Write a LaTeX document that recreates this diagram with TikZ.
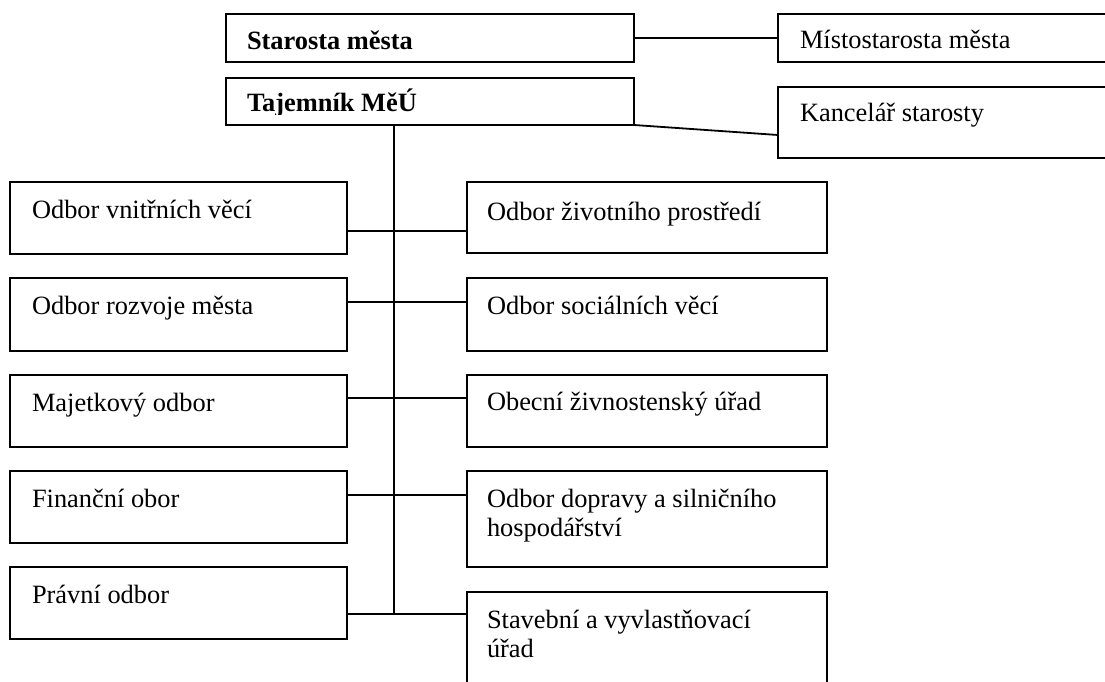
\documentclass[tikz,border=0pt]{standalone}
\usepackage{fontspec}
\setmainfont{Liberation Serif}
\begin{document}
\begin{tikzpicture}[x=1pt,y=1pt,
  box/.style={draw, line width=1.8pt, inner sep=0pt, outer sep=0pt, anchor=north west},
  txt/.style={inner sep=0pt, outer sep=0pt, anchor=base west, align=left, font=\fontsize{26.4}{29}\selectfont},
  conn/.style={line width=1.8pt}]
\useasboundingbox (0,0) rectangle (1105,-682);
\clip (0,0) rectangle (1105,-682);
% top boxes
\node[box, minimum width=408, minimum height=48] (sta) at (226,-14) {};
\node[txt] (stat) at ([shift={(21,-36)}]sta.north west) {\bfseries Starosta města};
\node[box, minimum width=408, minimum height=47] (taj) at (226,-78) {};
\begin{scope}
  \clip (226,-78) rectangle (634,-115);
  \node[txt] (tajt) at ([shift={(21,-34)}]taj.north west) {\bfseries Tajemník MěÚ};
\end{scope}
\node[box, minimum width=400, minimum height=48] (mis) at (778,-14) {};
\node[txt] (mist) at ([shift={(22,-35)}]mis.north west) {Místostarosta města};
\node[box, minimum width=400, minimum height=71] (kan) at (778,-87) {};
\node[txt] (kant) at ([shift={(22,-35)}]kan.north west) {Kancelář starosty};
% left boxes
\node[box, minimum width=337, minimum height=72] (l1) at (10,-182) {};
\node[box, minimum width=337, minimum height=73] (l2) at (10,-278) {};
\node[box, minimum width=337, minimum height=72] (l3) at (10,-375) {};
\node[box, minimum width=337, minimum height=72] (l4) at (10,-471) {};
\node[box, minimum width=337, minimum height=72] (l5) at (10,-567) {};
\node[txt] (l1t) at ([shift={(22,-36)}]l1.north west) {Odbor vnitřních věcí};
\node[txt] (l2t) at ([shift={(22,-36)}]l2.north west) {Odbor rozvoje města};
\node[txt] (l3t) at ([shift={(22,-36)}]l3.north west) {Majetkový odbor};
\node[txt] (l4t) at ([shift={(22,-36)}]l4.north west) {Finanční obor};
\node[txt] (l5t) at ([shift={(22,-36)}]l5.north west) {Právní odbor};
% right boxes
\node[box, minimum width=360, minimum height=71] (r1) at (467,-182) {};
\node[box, minimum width=360, minimum height=73] (r2) at (467,-278) {};
\node[box, minimum width=360, minimum height=72] (r3) at (467,-375) {};
\node[box, minimum width=360, minimum height=96] (r4) at (467,-471) {};
\node[box, minimum width=360, minimum height=120] (r5) at (467,-592) {};
\node[txt] (r1t) at ([shift={(20,-38)}]r1.north west) {Odbor životního prostředí};
\node[txt] (r2t) at ([shift={(20,-36)}]r2.north west) {Odbor sociálních věcí};
\node[txt] (r3t) at ([shift={(20,-35)}]r3.north west) {Obecní živnostenský úřad};
\node[txt] (r4t) at ([shift={(20,-65)}]r4.north west) {Odbor dopravy a silničního\\hospodářství};
\node[txt] (r5t) at ([shift={(20,-65)}]r5.north west) {Stavební a vyvlastňovací\\úřad};
% connectors
\draw[conn] (sta.east) -- (mis.west);
\draw[conn] (taj.south east) -- ([yshift=23]kan.south west);
\coordinate (ttop) at ([xshift=-36]taj.south);
\coordinate (j1) at (394,-231);
\coordinate (j2) at (394,-302);
\coordinate (j3) at (394,-398);
\coordinate (j4) at (394,-495);
\coordinate (j5) at (394,-614);
\draw[conn] (ttop) -- (j5);
\draw[conn] (l1.east |- j1) -- (r1.west |- j1);
\draw[conn] (l2.east |- j2) -- (r2.west |- j2);
\draw[conn] (l3.east |- j3) -- (r3.west |- j3);
\draw[conn] (l4.east |- j4) -- (r4.west |- j4);
\draw[conn] (l5.east |- j5) -- (r5.west |- j5);
\end{tikzpicture}
\end{document}
